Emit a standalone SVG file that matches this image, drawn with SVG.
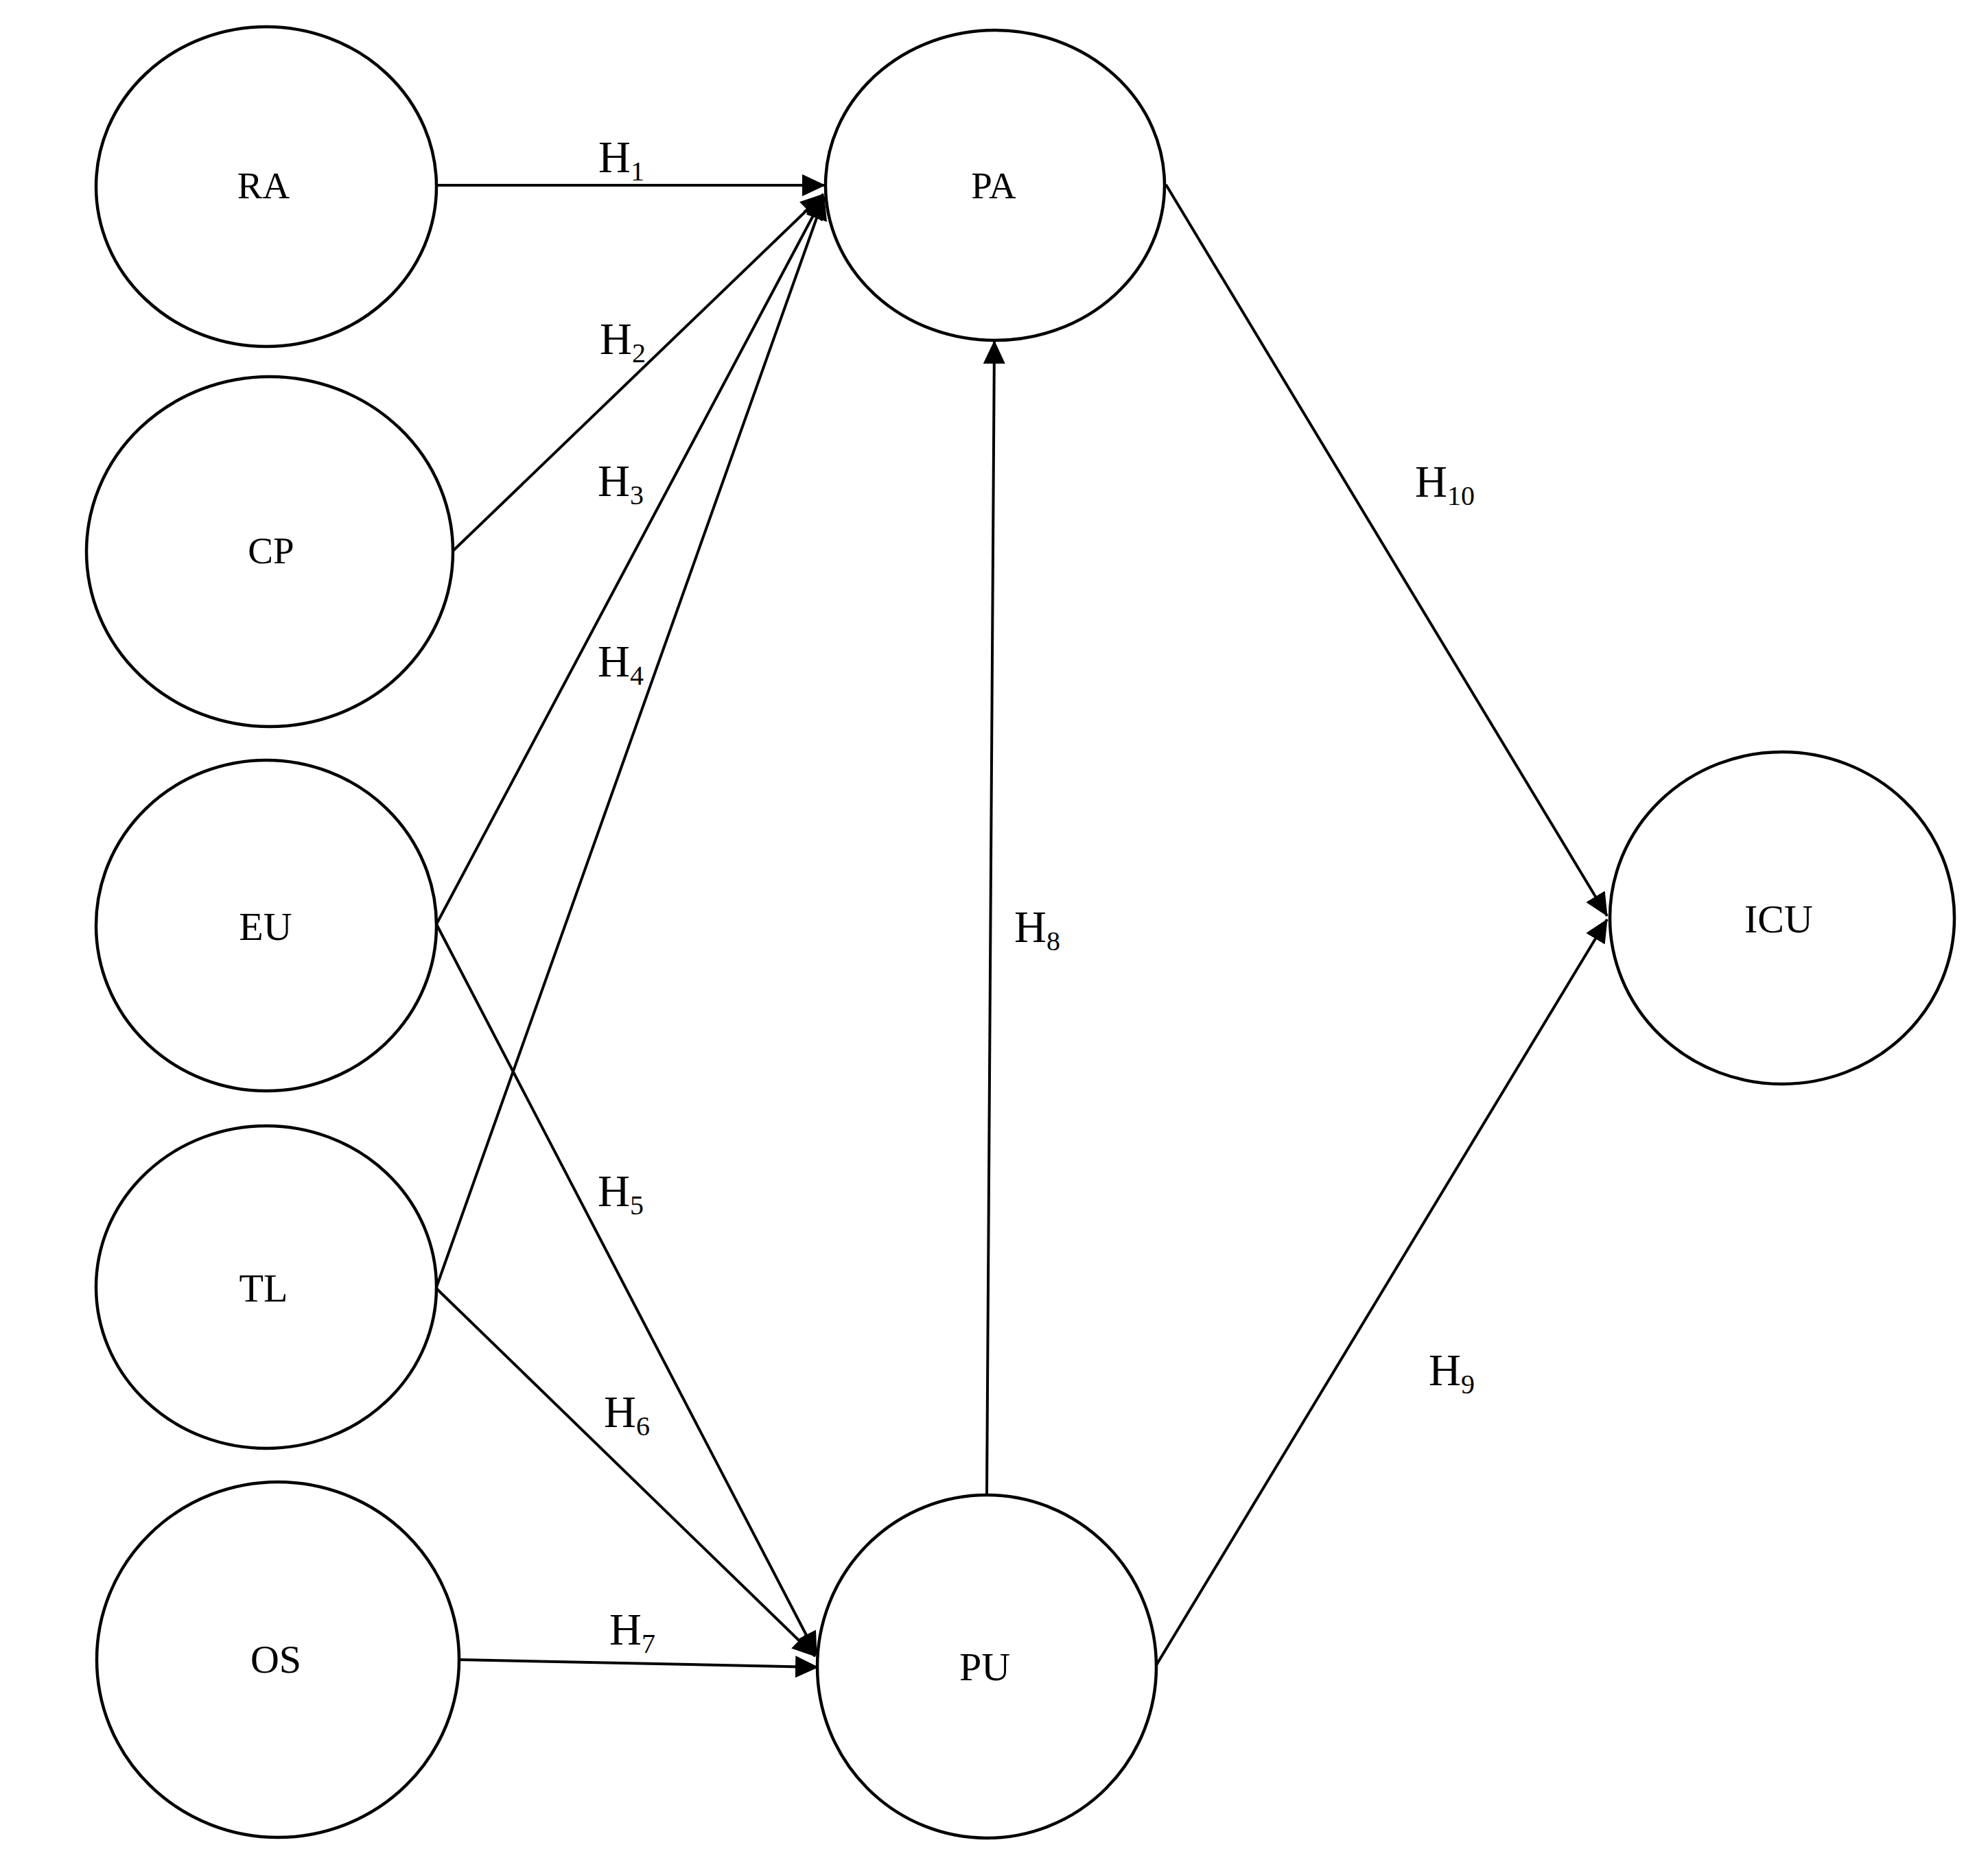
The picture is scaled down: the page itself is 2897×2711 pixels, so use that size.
<svg xmlns="http://www.w3.org/2000/svg" width="2897" height="2711" viewBox="0 0 2897 2711">
<style>
.node{fill:none;stroke:#000;stroke-width:4.5}
.lbl{font-family:"Liberation Serif","Times New Roman",serif;font-size:55px;fill:#000;text-anchor:middle}
.lbl2{font-size:58px}
.edge{stroke:#000;stroke-width:4;fill:none;marker-end:url(#ah)}
.h{font-family:"Liberation Serif","Times New Roman",serif;font-size:65px;fill:#000}
.sub{font-size:40px}
</style>
<defs>
<marker id="ah" markerUnits="userSpaceOnUse" markerWidth="34" markerHeight="32" refX="33" refY="16" orient="auto" viewBox="0 0 34 32">
<path d="M0,0 L34,16 L0,32 z" fill="#000"/>
</marker>
</defs>
<rect width="2897" height="2711" fill="#fff"/>
<g id="connectors">
<line class="edge" x1="636" y1="270" x2="1202" y2="270"/>
<line class="edge" x1="660" y1="803" x2="1200" y2="283"/>
<line class="edge" x1="636" y1="1347" x2="1200" y2="286"/>
<line class="edge" x1="636" y1="1876" x2="1201" y2="287"/>
<line class="edge" x1="636" y1="1347" x2="1190" y2="2412"/>
<line class="edge" x1="636" y1="1878" x2="1188" y2="2414"/>
<line class="edge" x1="669" y1="2419" x2="1192" y2="2430"/>
<line class="edge" x1="1438" y1="2179" x2="1449" y2="497"/>
<line class="edge" x1="1685" y1="2427" x2="2342" y2="1340"/>
<line class="edge" x1="1699" y1="269" x2="2342" y2="1335"/>
</g>
<g id="edge-labels">
<text class="h" x="872" y="251">H<tspan class="sub" dy="12">1</tspan></text>
<text class="h" x="874" y="516">H<tspan class="sub" dy="12">2</tspan></text>
<text class="h" x="871" y="723">H<tspan class="sub" dy="12">3</tspan></text>
<text class="h" x="871" y="986">H<tspan class="sub" dy="12">4</tspan></text>
<text class="h" x="871" y="1758">H<tspan class="sub" dy="12">5</tspan></text>
<text class="h" x="880" y="2080">H<tspan class="sub" dy="12">6</tspan></text>
<text class="h" x="888" y="2397">H<tspan class="sub" dy="12">7</tspan></text>
<text class="h" x="1478" y="1373">H<tspan class="sub" dy="12">8</tspan></text>
<text class="h" x="2082" y="2019">H<tspan class="sub" dy="12">9</tspan></text>
<text class="h" x="2062" y="724">H<tspan class="sub" dy="12">10</tspan></text>
</g>
<g id="node-RA"><ellipse class="node" cx="388" cy="272" rx="248" ry="233"/><text class="lbl" x="384" y="289">RA</text></g>
<g id="node-CP"><ellipse class="node" cx="393" cy="804" rx="267" ry="255"/><text class="lbl" x="395" y="821">CP</text></g>
<g id="node-EU"><ellipse class="node" cx="388" cy="1349" rx="248" ry="241"/><text class="lbl lbl2" x="387" y="1370">EU</text></g>
<g id="node-TL"><ellipse class="node" cx="388" cy="1876" rx="248" ry="235"/><text class="lbl lbl2" x="384" y="1897">TL</text></g>
<g id="node-OS"><ellipse class="node" cx="405" cy="2419" rx="264" ry="259"/><text class="lbl lbl2" x="402" y="2438">OS</text></g>
<g id="node-PA"><ellipse class="node" cx="1450" cy="270" rx="247" ry="226"/><text class="lbl" x="1448" y="289">PA</text></g>
<g id="node-PU"><ellipse class="node" cx="1438" cy="2429" rx="247" ry="250"/><text class="lbl lbl2" x="1435" y="2449">PU</text></g>
<g id="node-ICU"><ellipse class="node" cx="2597" cy="1338" rx="251" ry="242"/><text class="lbl lbl2" x="2592" y="1359">ICU</text></g>
</svg>
